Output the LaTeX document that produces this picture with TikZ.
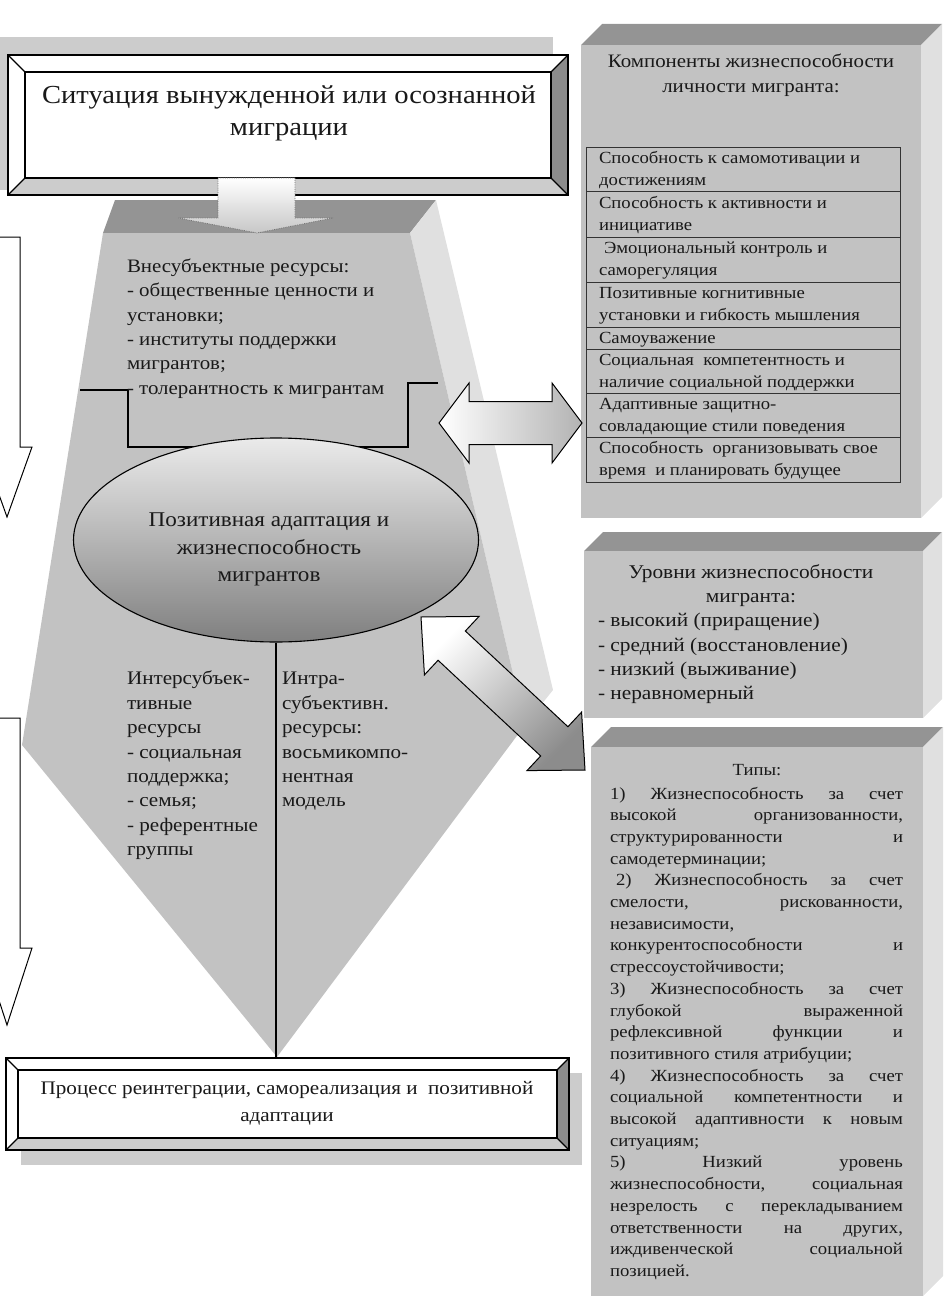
\documentclass[tikz,border=0pt]{standalone}
\usepackage{fontspec}
\setmainfont[FakeStretch=1.1]{Liberation Serif}
\usetikzlibrary{shapes.geometric,calc}
\definecolor{facec}{gray}{0.76}
\definecolor{topc}{gray}{0.58}
\definecolor{sidec}{gray}{0.88}
\definecolor{shadc}{gray}{0.8}
\definecolor{bevd}{gray}{0.55}
\definecolor{bevl}{gray}{0.8}
\newcommand\fsz[2]{\fontsize{#1}{#2}\selectfont}
\newcommand\jline[1]{\makebox[293pt][s]{#1}}
\newcommand\lline[1]{\makebox[293pt][l]{#1}}
\newcommand\bvbox[5]{%
  \fill[white] (#1,#2) rectangle (#3,#4);
  \fill[bevd] (#3,#2) -- (#3,#4) -- ({#3-#5},{#4-#5}) -- ({#3-#5},{#2+#5}) -- cycle;
  \fill[bevl] (#1,#4) -- (#3,#4) -- ({#3-#5},{#4-#5}) -- ({#1+#5},{#4-#5}) -- cycle;
  \draw[boxline] (#1,#2) rectangle (#3,#4);
  \draw[boxline] ({#1+#5},{#2+#5}) rectangle ({#3-#5},{#4-#5});
  \draw[boxline] (#1,#2) -- ({#1+#5},{#2+#5}) (#3,#2) -- ({#3-#5},{#2+#5})
     (#1,#4) -- ({#1+#5},{#4-#5}) (#3,#4) -- ({#3-#5},{#4-#5});
}
\newcommand\pbox[5]{%
  \fill[topc] (#1,#2) -- (#3,#2) -- ({#3+#5},{#2-#5}) -- ({#1+#5},{#2-#5}) -- cycle;
  \fill[sidec] (#3,#2) -- ({#3+#5},{#2-#5}) -- ({#3+#5},{#4-#5}) -- (#3,#4) -- cycle;
  \fill[facec] (#1,#2) rectangle (#3,#4);
}
\tikzset{
  boxline/.style={draw=black, line width=1.2pt},
  txt/.style={inner sep=0pt, outer sep=0pt, text=black!90},
  lbl/.style={txt, align=left, anchor=north west},
  blockarrow/.style={draw=black, line width=1pt},
}
\begin{document}
\begin{tikzpicture}[x=1pt,y=-1pt]
\useasboundingbox (0,0) rectangle (947,1308);

% ---------- top box shadow
\fill[shadc] (0,37) rectangle (553,190);

% ---------- big 3D pentagon
\fill[topc] (103,233) -- (410,233) -- (436,200) -- (115,200) -- cycle;
\fill[sidec] (410,233) -- (436,200) -- (553,690) -- (525,725) -- cycle;
\fill[facec] (103,233) -- (410,233) -- (525,725) -- (277,1057) -- (22,745) -- cycle;

% ---------- top bevel box
\bvbox{8}{55}{568}{195}{17}
\node[inner sep=0pt, minimum width=560pt, minimum height=140pt] (sitbox) at (288,125) {};
\node[txt, align=center, anchor=north, font=\fsz{26}{32}] (sit) at (289,81.6)
  {\strut Ситуация вынужденной или осознанной\\миграции};

% ---------- dotted down arrow
\path[top color=white, bottom color=black!22, draw=black!55, densely dotted, line width=0.8pt]
  (218,178) -- (295,178) -- (295,218) -- (333,218) -- (257,233) -- (178,218) -- (218,218) -- cycle;

% ---------- brackets
\draw[line width=1.1pt] (80,390) -- (128,390) -- (128,447) -- (200,447);
\draw[line width=1.1pt] (438,383) -- (408,383) -- (408,447) -- (352,447);

% ---------- texts in the pentagon
\node[lbl, font=\fsz{19}{24.4}] (ext) at (127,255.3)
  {\strut Внесубъектные ресурсы:\\- общественные ценности и\\установки;\\- институты поддержки\\мигрантов;\\- толерантность к мигрантам};

\node[ellipse, draw, line width=1.1pt, minimum width=405pt, minimum height=204pt, inner sep=0pt,
      top color=black!8, bottom color=black!50] (pos) at (276,540) {};
\node[txt, align=center, anchor=north, font=\fsz{21}{27.5}] (postxt) at (269,507.6)
  {\strut Позитивная адаптация и\\жизнеспособность\\мигрантов};

\node[lbl, font=\fsz{19.2}{24.4}] (inter) at (127,667.9)
  {\strut Интерсубъек-\\тивные\\ресурсы\\- социальная\\поддержка;\\- семья;\\- референтные\\группы};
\node[lbl, font=\fsz{19.2}{24.4}] (intra) at (282,667.9)
  {\strut Интра-\\субъективн.\\ресурсы:\\восьмикомпо-\\нентная\\модель};

% ---------- bottom box
\fill[shadc] (21,1073) rectangle (582,1165);
\bvbox{6}{1058}{569}{1150}{12}
\node[inner sep=0pt, minimum width=563pt, minimum height=92pt] (proc) at (287.5,1104) {};
\node[txt, align=center, anchor=north, font=\fsz{19.2}{27}] (proctxt) at (287,1075.5)
  {\strut Процесс реинтеграции, самореализация и\ \ позитивной\\адаптации};
\draw[line width=1.1pt] (pos.south) -- (pos.south |- proc.north);

% ---------- left outline arrows
\draw[blockarrow, fill=white] (-6,237) -- (20,237) -- (20,447) -- (32,447) -- (7,517) -- (-18,447) -- (-6,447) -- cycle;
\draw[blockarrow, fill=white] (-6,718) -- (20,718) -- (20,948) -- (32,948) -- (7,1025) -- (-18,948) -- (-6,948) -- cycle;

% ---------- right panels
\pbox{581}{45}{921}{518}{21}
\pbox{584}{551}{923}{718}{19}
\pbox{591}{747}{923}{1296}{20}

\node[txt, align=center, anchor=north, font=\fsz{19}{25}] (comp) at (751,49.9)
  {\strut Компоненты жизнеспособности\\личности мигранта:};

\draw[line width=1pt, black!80] (586,148) rectangle (900,482);
\foreach \yy in {192,237,282,327,349,393,437}
  \draw[line width=1pt, black!80] (586,\yy) -- (900,\yy);

\begin{scope}[every node/.style={lbl, font=\fsz{17}{22}}]
\node (r1) at (599,148.6) {\strut Способность к самомотивации и\\достижениям};
\node (r2) at (599,192.6) {\strut Способность к активности и\\инициативе};
\node (r3) at (599,237.6) {\strut\hspace*{5pt}Эмоциональный контроль и\\саморегуляция};
\node (r4) at (599,282.6) {\strut Позитивные когнитивные\\установки и гибкость мышления};
\node (r5) at (599,327.6) {\strut Самоуважение};
\node (r6) at (599,349.6) {\strut Социальная\ \ компетентность и\\наличие социальной поддержки};
\node (r7) at (599,393.6) {\strut Адаптивные защитно-\\совладающие стили поведения};
\node (r8) at (599,437.6) {\strut Способность\ \ организовывать свое\\время\ \ и планировать будущее};
\end{scope}

\node[txt, align=center, anchor=north, font=\fsz{19.4}{24.2}] (lev) at (751,561.5)
  {\strut Уровни жизнеспособности\\мигранта:};
\node[lbl, font=\fsz{19.4}{24.2}] (levlist) at (598,609.9)
  {\strut - высокий (приращение)\\- средний (восстановление)\\- низкий (выживание)\\- неравномерный};

\node[txt, anchor=base, font=\fsz{17}{21.7}] (typ) at (757,775) {Типы:};
\node[lbl, font=\fsz{17}{21.7}] (types) at (610,783.8) {%
\strut\jline{1) Жизнеспособность за счет}\\
\jline{высокой организованности,}\\
\jline{структурированности и}\\
\lline{самодетерминации;}\\
\makebox[293pt][s]{\hspace*{6pt}2) Жизнеспособность за счет}\\
\jline{смелости, рискованности,}\\
\lline{независимости,}\\
\jline{конкурентоспособности и}\\
\lline{стрессоустойчивости;}\\
\jline{3) Жизнеспособность за счет}\\
\jline{глубокой выраженной}\\
\jline{рефлексивной функции и}\\
\lline{позитивного стиля атрибуции;}\\
\jline{4) Жизнеспособность за счет}\\
\jline{социальной компетентности и}\\
\jline{высокой адаптивности к новым}\\
\lline{ситуациям;}\\
\jline{5) Низкий уровень}\\
\jline{жизнеспособности, социальная}\\
\jline{незрелость с перекладыванием}\\
\jline{ответственности на других,}\\
\jline{иждивенческой социальной}\\
\lline{позицией.}};

% ---------- double arrows
\coordinate (ha) at (439,423);
\coordinate (hb) at (582,423);
\path[blockarrow, left color=white, right color=black!30]
  (ha) -- ($(ha)!30pt!(hb)!40pt!90:(hb)$) -- ($(ha)!30pt!(hb)!21.5pt!90:(hb)$)
  -- ($(hb)!30pt!(ha)!21.5pt!-90:(ha)$) -- ($(hb)!30pt!(ha)!40pt!-90:(ha)$)
  -- (hb) -- ($(hb)!30pt!(ha)!40pt!90:(ha)$) -- ($(hb)!30pt!(ha)!21.5pt!90:(ha)$)
  -- ($(ha)!30pt!(hb)!21.5pt!-90:(hb)$) -- ($(ha)!30pt!(hb)!40pt!-90:(hb)$) -- cycle;

\coordinate (da) at (421,617);
\coordinate (db) at (585,770);
\path[blockarrow, top color=white, bottom color=black!45, shading angle=45]
  (da) -- ($(da)!42pt!(db)!40pt!90:(db)$) -- ($(da)!42pt!(db)!20pt!90:(db)$)
  -- ($(db)!42pt!(da)!20pt!-90:(da)$) -- ($(db)!42pt!(da)!40pt!-90:(da)$)
  -- (db) -- ($(db)!42pt!(da)!40pt!90:(da)$) -- ($(db)!42pt!(da)!20pt!90:(da)$)
  -- ($(da)!42pt!(db)!20pt!-90:(db)$) -- ($(da)!42pt!(db)!40pt!-90:(db)$) -- cycle;

\end{tikzpicture}
\end{document}
